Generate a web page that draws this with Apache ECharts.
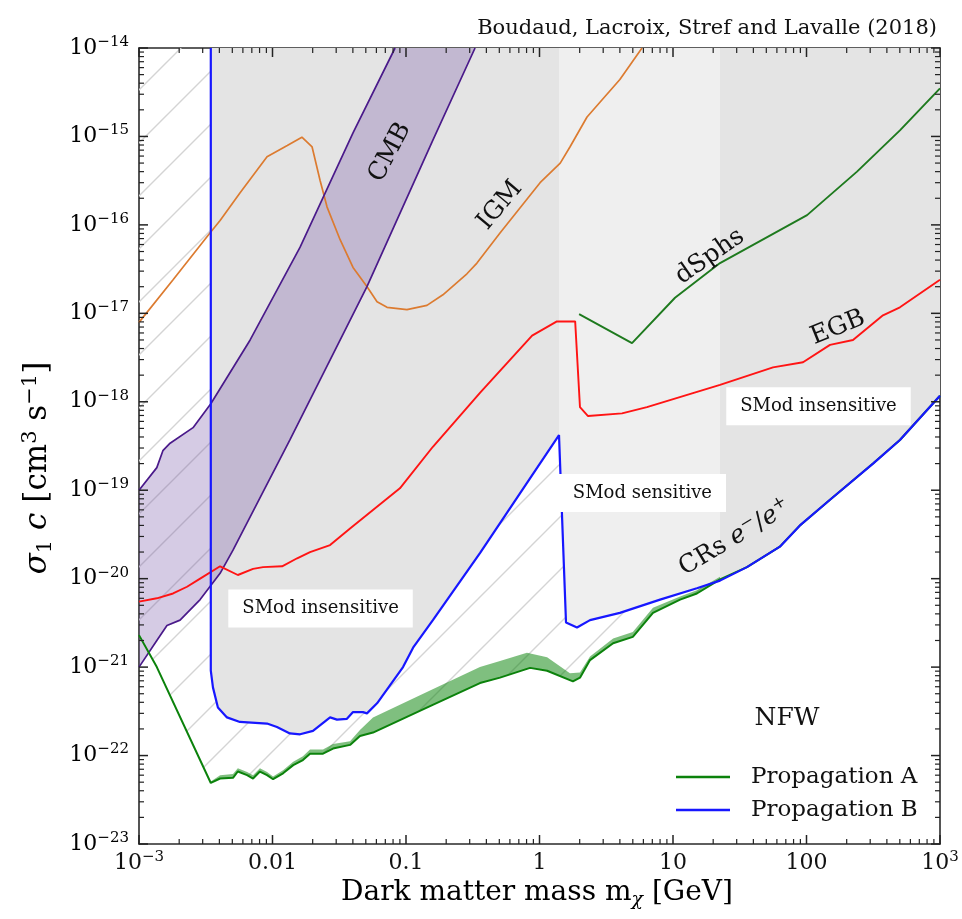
<!DOCTYPE html>
<html><head><meta charset="utf-8">
<script src="https://cdn.jsdelivr.net/npm/echarts@6/dist/echarts.min.js"></script>
<style>html,body{margin:0;padding:0;background:#fff}#c{width:962px;height:919px}</style>
</head><body><div id="c"></div>
<script>
// ---------- axis ranges & tick labels ----------
const X_MIN = 1e-3, X_MAX = 1e3, Y_MIN = 1e-23, Y_MAX = 1e-14;
const xTickLabels = ['{p|10}{e|−3}', '{p|0.01}', '{p|0.1}', '{p|1}', '{p|10}', '{p|100}', '{p|10}{e|3}'];
const yTickValues = [1e-14, 1e-15, 1e-16, 1e-17, 1e-18, 1e-19, 1e-20, 1e-21, 1e-22, 1e-23];
const yTickLabels = ['{p|10}{e|−14}','{p|10}{e|−15}','{p|10}{e|−16}','{p|10}{e|−17}','{p|10}{e|−18}',
                     '{p|10}{e|−19}','{p|10}{e|−20}','{p|10}{e|−21}','{p|10}{e|−22}','{p|10}{e|−23}'];
const xTickValues = [1e-3, 1e-2, 1e-1, 1, 10, 100, 1000];
const minorMultipliers = [2, 3, 4, 5, 6, 7, 8, 9];

// ---------- data (m_chi [GeV], sigma c [cm^3 s^-1]) ----------
const propagationA = [[0.001,2.3e-21],[0.00136,1.0e-21],[0.00345,4.9e-23],[0.00405,5.5e-23],[0.00506,5.6e-23],
  [0.0055,6.6e-23],[0.00645,6.0e-23],[0.00715,5.5e-23],[0.00805,6.6e-23],[0.0091,6.0e-23],[0.0101,5.4e-23],
  [0.012,6.3e-23],[0.0143,7.8e-23],[0.0169,8.9e-23],[0.0191,1.05e-22],[0.0239,1.05e-22],[0.0284,1.2e-22],
  [0.0381,1.32e-22],[0.0452,1.66e-22],[0.0566,1.82e-22],[0.15,3.6e-22],[0.358,6.6e-22],[0.506,7.6e-22],
  [0.85,9.8e-22],[1.14,9.1e-22],[1.78,6.9e-22],[2.01,7.6e-22],[2.39,1.2e-21],[3.56,1.86e-21],[5.0,2.2e-21],
  [7.08,4.1e-21],[11.3,5.8e-21],[15.1,6.8e-21],[22.5,9.8e-21],[35.8,1.35e-20],[63.2,2.3e-20],[89.3,4.0e-20],
  [150,7.8e-20],[315,2.0e-19],[501,3.7e-19],[1000,1.17e-18]];
const propagationABandTop = [[0.00345,5.1e-23],[0.00405,6.0e-23],[0.00506,6.2e-23],[0.0055,7.2e-23],[0.00645,6.5e-23],
  [0.00715,6.0e-23],[0.00805,7.2e-23],[0.0091,6.5e-23],[0.0101,5.8e-23],[0.012,6.8e-23],[0.0143,8.5e-23],
  [0.0169,9.8e-23],[0.0191,1.17e-22],[0.0239,1.17e-22],[0.0284,1.35e-22],[0.0381,1.45e-22],[0.0452,1.95e-22],
  [0.0566,2.7e-22],[0.15,5.4e-22],[0.358,1.0e-21],[0.506,1.17e-21],[0.805,1.45e-21],[1.14,1.29e-21],
  [1.69,8.5e-22],[2.01,8.7e-22],[2.39,1.32e-21],[3.56,2.1e-21],[5.0,2.5e-21],[7.08,4.7e-21],[11.3,6.3e-21],
  [15.1,7.4e-21],[22.5,1.05e-20]];
const propagationB = [[0.00345,1e-14],[0.00345,9.1e-22],[0.00358,5.9e-22],[0.0039,3.5e-22],[0.00456,2.7e-22],
  [0.0057,2.4e-22],[0.0091,2.3e-22],[0.0108,2.1e-22],[0.0135,1.78e-22],[0.0161,1.74e-22],[0.0201,1.9e-22],
  [0.027,2.7e-22],[0.0304,2.55e-22],[0.0361,2.6e-22],[0.0401,3.1e-22],[0.0476,3.1e-22],[0.051,3.0e-22],
  [0.0607,3.9e-22],[0.095,1.0e-21],[0.113,1.66e-21],[0.159,3.4e-21],[0.358,1.95e-20],[1.40,4.2e-19],
  [1.58,3.2e-21],[1.91,2.8e-21],[2.39,3.4e-21],[4.0,4.1e-21],[8.0,5.8e-21],[15.1,7.8e-21],[22.5,9.5e-21],
  [35.8,1.35e-20],[63.2,2.3e-20],[89.3,4.0e-20],[150,7.8e-20],[315,2.0e-19],[501,3.7e-19],[1000,1.17e-18]];
const egb = [[0.001,5.5e-21],[0.00136,6.0e-21],[0.0018,6.8e-21],[0.00229,8.1e-21],[0.00287,1.0e-20],
  [0.00405,1.38e-20],[0.0055,1.1e-20],[0.00715,1.29e-20],[0.0085,1.35e-20],[0.0118,1.38e-20],[0.0153,1.7e-20],
  [0.0191,2.0e-20],[0.027,2.4e-20],[0.0381,3.7e-20],[0.09,1.05e-19],[0.159,3.1e-19],[0.358,1.26e-18],
  [0.88,5.6e-18],[1.35,8.1e-18],[1.85,8.1e-18],[2.01,8.7e-19],[2.31,6.9e-19],[4.15,7.4e-19],[6.38,8.7e-19],
  [22.5,1.55e-18],[56.1,2.45e-18],[94.2,2.8e-18],[150,4.4e-18],[223,5.0e-18],[374,9.5e-18],[501,1.17e-17],
  [1000,2.4e-17]];
const igm = [[0.001,7.9e-18],[0.0018,2.4e-17],[0.0034,8.1e-17],[0.00405,1.12e-16],[0.0057,2.3e-16],
  [0.0091,5.9e-16],[0.0129,7.9e-16],[0.0166,9.8e-16],[0.0198,7.6e-16],[0.0227,3.2e-16],[0.0256,1.6e-16],
  [0.0321,6.8e-17],[0.0401,3.3e-17],[0.0511,2.0e-17],[0.0607,1.35e-17],[0.0721,1.17e-17],[0.1016,1.1e-17],
  [0.1435,1.23e-17],[0.189,1.62e-17],[0.286,2.8e-17],[0.34,3.7e-17],[0.506,8.1e-17],[1.01,3.0e-16],
  [1.43,5.0e-16],[1.69,7.6e-16],[2.27,1.66e-15],[4.0,4.4e-15],[5.86,1e-14]];
const dsphs = [[1.98,9.8e-18],[4.93,4.6e-18],[10.35,1.5e-17],[22.5,3.7e-17],[101,1.29e-16],[239,4.0e-16],
  [501,1.17e-15],[1000,3.5e-15]];
const cmbUpper = [[0.001,1e-19],[0.00136,1.8e-19],[0.00151,2.8e-19],[0.00171,3.4e-19],[0.00254,5.1e-19],
  [0.00345,9.5e-19],[0.0068,5.0e-18],[0.0161,5.6e-17],[0.0401,1.1e-15],[0.0828,1e-14]];
const cmbLower = [[0.001,1e-21],[0.00136,2.0e-21],[0.00162,2.95e-21],[0.00203,3.4e-21],[0.00287,5.8e-21],
  [0.00405,1.15e-20],[0.00506,2.1e-20],[0.0135,3.7e-19],[0.051,2.0e-17],[0.159,9.1e-16],[0.329,1e-14]];
const smodSensitiveRange = [1.40, 22.5];

// ---------- annotation anchors ----------
const curveLabels = [
  {text: 'CMB', at: [0.076, 6.6e-16], angle: 62},
  {text: 'IGM', at: [0.506, 1.66e-16], angle: 50},
  {text: 'dSphs', at: [18.9, 4.4e-17], angle: 35},
  {text: 'EGB', at: [172, 6.9e-18], angle: 22},
  {text: 'CRs {i|e}{sup|−}/{i|e}{sup|+}', at: [29.1, 2.9e-20], angle: 31}
];
const boxLabels = [
  {text: 'SMod insensitive', at: [0.0229, 4.6e-21]},
  {text: 'SMod sensitive', at: [5.9, 9.3e-20]},
  {text: 'SMod insensitive', at: [123, 8.9e-19]}
];
const nfwLabel = {text: 'NFW', at: [71.5, 2.6e-22]};

// ---------- helpers ----------
const FONT = 'DejaVu Serif';
function hatchPattern() {
  const s = 53, off = 17;
  const c = document.createElement('canvas');
  c.width = s; c.height = s;
  const g = c.getContext('2d');
  g.strokeStyle = '#d4d4d4'; g.lineWidth = 1.4;
  g.beginPath();
  for (let k = -1; k <= 2; k++) {
    const t = off + k * s;
    g.moveTo(t + 3, -3); g.lineTo(-3, t + 3);
  }
  g.stroke();
  return {image: c, repeat: 'repeat'};
}
function poly(name, pts, fill, z) {
  return {
    type: 'custom', name, coordinateSystem: 'cartesian2d', xAxisIndex: 0, yAxisIndex: 0,
    silent: true, clip: true, z, animation: false,
    data: [[pts[0][0], pts[0][1]]],
    renderItem: (params, api) => ({
      type: 'polygon',
      shape: {points: pts.map(p => api.coord(p))},
      style: {fill: fill, stroke: null, lineWidth: 0}
    })
  };
}
function line(name, data, color, width, z) {
  return {
    type: 'line', name, data, xAxisIndex: 0, yAxisIndex: 0, symbol: 'none', showSymbol: false,
    lineStyle: {color, width}, itemStyle: {color}, z, silent: true, animation: false, clip: true
  };
}

const [s1, s2] = smodSensitiveRange;
const hatchPts = propagationA.concat([[X_MAX, Y_MAX], [X_MIN, Y_MAX]]);
const greyLeft = propagationB.filter(p => p[0] <= s1).concat([[s1, Y_MAX]]);
const greyMid = propagationB.filter(p => p[0] >= s1 && p[0] <= s2).concat([[s2, Y_MAX], [s1, Y_MAX]]);
const greyRight = propagationB.filter(p => p[0] >= s2).concat([[X_MAX, Y_MAX], [s2, Y_MAX]]);
const cmbPts = cmbUpper.concat(cmbLower.slice().reverse());
const bandPts = propagationA.filter(p => p[0] >= propagationABandTop[0][0] && p[0] <= propagationABandTop[propagationABandTop.length - 1][0])
  .concat(propagationABandTop.slice().reverse());

const xMinor = [], yMinor = [];
for (let k = -3; k < 3; k++) minorMultipliers.forEach(m => xMinor.push(m * Math.pow(10, k)));
for (let k = -23; k < -14; k++) minorMultipliers.forEach(m => yMinor.push(m * Math.pow(10, k)));

const axisLineStyle = {color: '#2a2a2a', width: 1.6};
const tickRich = {
  p: {fontFamily: FONT, fontSize: 22, color: '#111', lineHeight: 18},
  e: {fontFamily: FONT, fontSize: 15, color: '#111', lineHeight: 6, padding: [0, 0, 12, 0]}
};
function xAxisBase(pos, show) {
  return {
    type: 'log', logBase: 10, min: X_MIN, max: X_MAX, splitNumber: 6, position: pos,
    axisLine: {show: true, onZero: false, lineStyle: axisLineStyle},
    axisTick: {show: false}, splitLine: {show: false}, minorTick: {show: false},
    axisLabel: show ? {
      show: true, margin: 10, fontFamily: FONT, fontSize: 22, color: '#111', lineHeight: 18,
      showMinLabel: true, showMaxLabel: true, hideOverlap: false, rich: tickRich,
      formatter: v => xTickLabels[Math.round(Math.log10(v)) + 3]
    } : {show: false}
  };
}
function yAxisBase(pos) {
  return {
    type: 'log', logBase: 10, min: Y_MIN, max: Y_MAX, splitNumber: 9, position: pos,
    axisLine: {show: true, onZero: false, lineStyle: axisLineStyle},
    axisTick: {show: false}, splitLine: {show: false}, minorTick: {show: false},
    axisLabel: {show: false}
  };
}

const chart = echarts.init(document.getElementById('c'), null, {renderer: 'canvas'});
chart.setOption({
  animation: false,
  backgroundColor: '#fff',
  title: {
    text: 'Boudaud, Lacroix, Stref and Lavalle (2018)', right: 20, top: 13,
    textStyle: {fontFamily: FONT, fontWeight: 'normal', fontSize: 21, color: '#111'}
  },
  grid: {left: 139, right: 22, top: 48, bottom: 75, containLabel: false, outerBoundsMode: 'none'},
  xAxis: [xAxisBase('bottom', true), xAxisBase('top', false)],
  yAxis: [yAxisBase('left'), yAxisBase('right')],
  legend: {
    data: ['Propagation A', 'Propagation B'], orient: 'vertical', left: 671, top: 759,
    icon: 'rect', itemWidth: 54, itemHeight: 2.5, itemGap: 7, selectedMode: false,
    textStyle: {fontFamily: FONT, fontSize: 23, color: '#111', lineHeight: 26, padding: [0, 0, 0, 16]}
  },
  series: [
    poly('hatch', hatchPts, hatchPattern(), 1),
    poly('greyLeft', greyLeft, '#e4e4e4', 2),
    poly('greyMid', greyMid, '#efefef', 2),
    poly('greyRight', greyRight, '#e4e4e4', 2),
    poly('cmbFill', cmbPts, 'rgba(115,82,165,0.3)', 3),
    poly('bandA', bandPts, 'rgba(0,128,0,0.5)', 4),
    line('IGM', igm, '#dc7b30', 1.7, 5),
    line('CMB upper', cmbUpper, '#4a1a8a', 1.7, 5),
    line('CMB lower', cmbLower, '#4a1a8a', 1.7, 5),
    line('EGB', egb, '#ff1414', 1.9, 6),
    line('dSphs', dsphs, '#1e7a1e', 1.9, 6),
    line('Propagation A', propagationA, '#0b820b', 2, 7),
    line('Propagation B', propagationB, '#1717ff', 2.2, 8)
  ]
});

const toPx = p => chart.convertToPixel({xAxisIndex: 0, yAxisIndex: 0}, p);
const graphics = [];

// ticks (major + minor) on all four sides, placed through the axes' scales
{
  const lb = toPx([X_MIN, Y_MIN]), rt = toPx([X_MAX, Y_MAX]);
  const left = lb[0], bottom = lb[1], right = rt[0], top = rt[1];
  const tick = (x1, y1, x2, y2, w) => graphics.push({type: 'line', z: 120, zlevel: 0, silent: true,
    shape: {x1, y1, x2, y2}, style: {stroke: '#222', lineWidth: w}});
  const xTicks = (vals, L, w) => vals.forEach(v => {
    const x = toPx([v, Y_MIN])[0];
    tick(x, bottom, x, bottom - L, w); tick(x, top, x, top + L, w);
  });
  const yTicks = (vals, L, w) => vals.forEach(v => {
    const y = toPx([X_MIN, v])[1];
    tick(left, y, left + L, y, w); tick(right, y, right - L, y, w);
  });
  xTicks(xTickValues, 9, 1.5); xTicks(xMinor, 5, 1.2);
  yTicks(yTickValues, 9, 1.5); yTicks(yMinor, 5, 1.2);
  yTickValues.forEach((v, i) => {
    const y = toPx([X_MIN, v])[1];
    graphics.push({type: 'text', x: left - 10, y: y, z: 50, silent: true,
      style: {text: yTickLabels[i], align: 'right', verticalAlign: 'middle', rich: tickRich}});
  });
}

const txtRich = {
  i: {fontFamily: FONT, fontSize: 25, fontStyle: 'italic', color: '#111'},
  sup: {fontFamily: FONT, fontSize: 17, color: '#111', padding: [0, 0, 13, 0]}
};
curveLabels.forEach(l => {
  const [x, y] = toPx(l.at);
  graphics.push({type: 'text', x, y, rotation: l.angle * Math.PI / 180, z: 100, silent: true,
    style: {text: l.text, fontFamily: FONT, fontSize: 25, fill: '#111', align: 'center', verticalAlign: 'middle', rich: txtRich}});
});
boxLabels.forEach(l => {
  const [x, y] = toPx(l.at);
  graphics.push({type: 'text', x, y, z: 100, silent: true,
    style: {text: l.text, fontFamily: FONT, fontSize: 18, fill: '#111', align: 'center', verticalAlign: 'middle',
      backgroundColor: '#fff', padding: [10, 14]}});
});
{
  const [x, y] = toPx(nfwLabel.at);
  graphics.push({type: 'text', x, y, z: 100, silent: true,
    style: {text: nfwLabel.text, fontFamily: FONT, fontSize: 25, fill: '#111', align: 'center', verticalAlign: 'middle'}});
}
const nameRich = (base, small) => ({
  n: {fontFamily: FONT, fontSize: base, color: '#111', lineHeight: 42},
  i: {fontFamily: FONT, fontSize: base, fontStyle: 'italic', color: '#111', lineHeight: 42},
  sub: {fontFamily: FONT, fontSize: small, color: '#111', padding: [15, 0, 0, 0]},
  subi: {fontFamily: FONT, fontSize: small, fontStyle: 'italic', color: '#111', padding: [15, 0, 0, 0]},
  sup: {fontFamily: FONT, fontSize: small, color: '#111', padding: [0, 0, 15, 0]}
});
graphics.push({type: 'text', x: 537, y: 893, z: 100, silent: true,
  style: {text: '{n|Dark matter mass m}{subi|χ}{n| [GeV]}', align: 'center', verticalAlign: 'middle', rich: nameRich(28, 19)}});
graphics.push({type: 'text', x: 38, y: 468, rotation: Math.PI / 2, z: 100, silent: true,
  style: {text: '{i|σ}{sub|1}{n| }{i|c}{n| [cm}{sup|3}{n| s}{sup|−1}{n|]}', align: 'center', verticalAlign: 'middle', rich: nameRich(31, 21)}});
chart.setOption({graphic: {elements: graphics}});
</script>
</body></html>
